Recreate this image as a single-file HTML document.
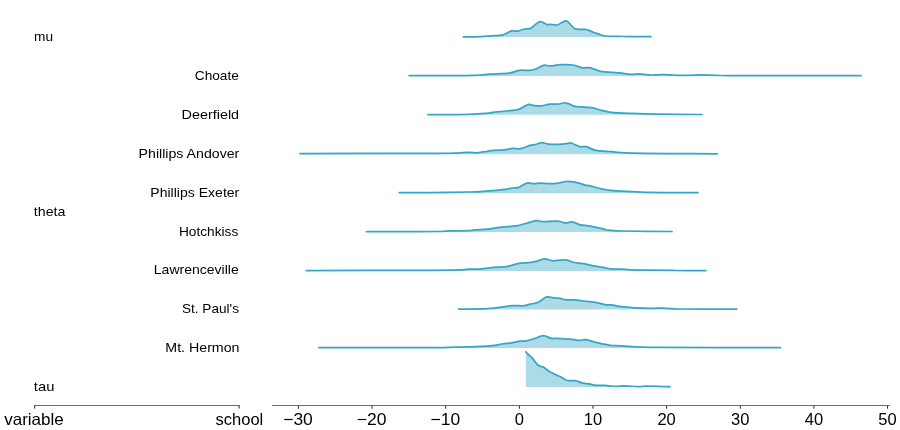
<!DOCTYPE html>
<html><head><meta charset="utf-8"><style>
html,body{margin:0;padding:0;background:#fff;width:900px;height:430px;overflow:hidden}
svg{display:block}
text{font-family:"Liberation Sans",sans-serif;fill:#000}
</style></head><body>
<svg width="900" height="430" viewBox="0 0 900 430">
<rect width="900" height="430" fill="#fff"/>
<path d="M463.30,36.80 C464.88,36.80 469.00,36.90 472.80,36.80 C476.60,36.70 482.58,36.38 486.10,36.20 C489.62,36.02 491.30,35.88 493.90,35.70 C496.50,35.52 499.85,35.38 501.70,35.10 C503.55,34.82 503.33,34.70 505.00,34.00 C506.67,33.30 509.67,31.37 511.70,30.90 C513.73,30.43 514.98,31.52 517.20,31.20 C519.42,30.88 522.77,29.47 525.00,29.00 C527.23,28.53 528.20,29.60 530.60,28.40 C533.00,27.20 536.63,22.43 539.40,21.80 C542.17,21.17 545.43,24.17 547.20,24.60 C548.97,25.03 548.52,24.33 550.00,24.40 C551.48,24.47 554.47,25.10 556.10,25.00 C557.73,24.90 558.27,24.48 559.80,23.80 C561.33,23.12 563.88,21.17 565.30,20.90 C566.72,20.63 566.78,20.95 568.30,22.20 C569.82,23.45 572.57,27.22 574.40,28.40 C576.23,29.58 577.25,29.10 579.30,29.30 C581.35,29.50 584.45,29.13 586.70,29.60 C588.95,30.07 590.77,31.33 592.80,32.10 C594.83,32.87 596.87,33.55 598.90,34.20 C600.93,34.85 602.55,35.63 605.00,36.00 C607.45,36.37 610.55,36.32 613.60,36.40 C616.65,36.48 619.63,36.45 623.30,36.50 C626.97,36.55 631.00,36.68 635.60,36.70 C640.20,36.72 648.35,36.62 650.90,36.60 L650.90,37.10 L463.30,37.10 Z" fill="#acdbe7" stroke="none"/>
<path d="M463.30,36.80 C464.88,36.80 469.00,36.90 472.80,36.80 C476.60,36.70 482.58,36.38 486.10,36.20 C489.62,36.02 491.30,35.88 493.90,35.70 C496.50,35.52 499.85,35.38 501.70,35.10 C503.55,34.82 503.33,34.70 505.00,34.00 C506.67,33.30 509.67,31.37 511.70,30.90 C513.73,30.43 514.98,31.52 517.20,31.20 C519.42,30.88 522.77,29.47 525.00,29.00 C527.23,28.53 528.20,29.60 530.60,28.40 C533.00,27.20 536.63,22.43 539.40,21.80 C542.17,21.17 545.43,24.17 547.20,24.60 C548.97,25.03 548.52,24.33 550.00,24.40 C551.48,24.47 554.47,25.10 556.10,25.00 C557.73,24.90 558.27,24.48 559.80,23.80 C561.33,23.12 563.88,21.17 565.30,20.90 C566.72,20.63 566.78,20.95 568.30,22.20 C569.82,23.45 572.57,27.22 574.40,28.40 C576.23,29.58 577.25,29.10 579.30,29.30 C581.35,29.50 584.45,29.13 586.70,29.60 C588.95,30.07 590.77,31.33 592.80,32.10 C594.83,32.87 596.87,33.55 598.90,34.20 C600.93,34.85 602.55,35.63 605.00,36.00 C607.45,36.37 610.55,36.32 613.60,36.40 C616.65,36.48 619.63,36.45 623.30,36.50 C626.97,36.55 631.00,36.68 635.60,36.70 C640.20,36.72 648.35,36.62 650.90,36.60" fill="none" stroke="#33a7c5" stroke-width="1.75" stroke-linejoin="round" stroke-linecap="round"/>
<path d="M409.10,75.60 C414.25,75.60 429.02,75.65 440.00,75.60 C450.98,75.55 466.67,75.55 475.00,75.30 C483.33,75.05 484.33,74.47 490.00,74.10 C495.67,73.73 504.33,73.68 509.00,73.10 C513.67,72.52 515.83,71.10 518.00,70.60 C520.17,70.10 520.00,70.13 522.00,70.10 C524.00,70.07 527.72,70.58 530.00,70.40 C532.28,70.22 533.42,69.85 535.70,69.00 C537.98,68.15 541.27,65.82 543.70,65.30 C546.13,64.78 547.42,66.02 550.30,65.90 C553.18,65.78 557.22,64.75 561.00,64.60 C564.78,64.45 569.45,64.45 573.00,65.00 C576.55,65.55 579.63,67.45 582.30,67.90 C584.97,68.35 585.88,67.13 589.00,67.70 C592.12,68.27 597.22,70.53 601.00,71.30 C604.78,72.07 608.53,72.03 611.70,72.30 C614.87,72.57 616.80,72.55 620.00,72.90 C623.20,73.25 627.78,74.25 630.90,74.40 C634.02,74.55 635.33,73.70 638.70,73.80 C642.07,73.90 646.97,74.85 651.10,75.00 C655.23,75.15 657.80,74.63 663.50,74.70 C669.20,74.77 679.07,75.37 685.30,75.40 C691.53,75.43 694.93,74.88 700.90,74.90 C706.87,74.92 711.25,75.38 721.10,75.50 C730.95,75.62 736.70,75.57 760.00,75.60 C783.30,75.63 844.08,75.68 860.90,75.70 L860.90,75.90 L409.10,75.90 Z" fill="#acdbe7" stroke="none"/>
<path d="M409.10,75.60 C414.25,75.60 429.02,75.65 440.00,75.60 C450.98,75.55 466.67,75.55 475.00,75.30 C483.33,75.05 484.33,74.47 490.00,74.10 C495.67,73.73 504.33,73.68 509.00,73.10 C513.67,72.52 515.83,71.10 518.00,70.60 C520.17,70.10 520.00,70.13 522.00,70.10 C524.00,70.07 527.72,70.58 530.00,70.40 C532.28,70.22 533.42,69.85 535.70,69.00 C537.98,68.15 541.27,65.82 543.70,65.30 C546.13,64.78 547.42,66.02 550.30,65.90 C553.18,65.78 557.22,64.75 561.00,64.60 C564.78,64.45 569.45,64.45 573.00,65.00 C576.55,65.55 579.63,67.45 582.30,67.90 C584.97,68.35 585.88,67.13 589.00,67.70 C592.12,68.27 597.22,70.53 601.00,71.30 C604.78,72.07 608.53,72.03 611.70,72.30 C614.87,72.57 616.80,72.55 620.00,72.90 C623.20,73.25 627.78,74.25 630.90,74.40 C634.02,74.55 635.33,73.70 638.70,73.80 C642.07,73.90 646.97,74.85 651.10,75.00 C655.23,75.15 657.80,74.63 663.50,74.70 C669.20,74.77 679.07,75.37 685.30,75.40 C691.53,75.43 694.93,74.88 700.90,74.90 C706.87,74.92 711.25,75.38 721.10,75.50 C730.95,75.62 736.70,75.57 760.00,75.60 C783.30,75.63 844.08,75.68 860.90,75.70" fill="none" stroke="#33a7c5" stroke-width="1.75" stroke-linejoin="round" stroke-linecap="round"/>
<path d="M428.00,114.60 C434.88,114.55 459.52,114.52 469.30,114.30 C479.08,114.08 482.47,113.67 486.70,113.30 C490.93,112.93 491.37,112.48 494.70,112.10 C498.03,111.72 502.70,111.47 506.70,111.00 C510.70,110.53 515.15,110.37 518.70,109.30 C522.25,108.23 525.33,105.20 528.00,104.60 C530.67,104.00 532.42,105.48 534.70,105.70 C536.98,105.92 539.20,106.17 541.70,105.90 C544.20,105.63 547.03,104.40 549.70,104.10 C552.37,103.80 555.37,104.28 557.70,104.10 C560.03,103.92 561.93,103.07 563.70,103.00 C565.47,102.93 566.42,103.15 568.30,103.70 C570.18,104.25 571.22,105.63 575.00,106.30 C578.78,106.97 586.55,107.03 591.00,107.70 C595.45,108.37 597.92,109.48 601.70,110.30 C605.48,111.12 609.27,112.10 613.70,112.60 C618.13,113.10 621.42,113.05 628.30,113.30 C635.18,113.55 642.72,113.90 655.00,114.10 C667.28,114.30 694.17,114.43 702.00,114.50 L702.00,114.80 L428.00,114.80 Z" fill="#acdbe7" stroke="none"/>
<path d="M428.00,114.60 C434.88,114.55 459.52,114.52 469.30,114.30 C479.08,114.08 482.47,113.67 486.70,113.30 C490.93,112.93 491.37,112.48 494.70,112.10 C498.03,111.72 502.70,111.47 506.70,111.00 C510.70,110.53 515.15,110.37 518.70,109.30 C522.25,108.23 525.33,105.20 528.00,104.60 C530.67,104.00 532.42,105.48 534.70,105.70 C536.98,105.92 539.20,106.17 541.70,105.90 C544.20,105.63 547.03,104.40 549.70,104.10 C552.37,103.80 555.37,104.28 557.70,104.10 C560.03,103.92 561.93,103.07 563.70,103.00 C565.47,102.93 566.42,103.15 568.30,103.70 C570.18,104.25 571.22,105.63 575.00,106.30 C578.78,106.97 586.55,107.03 591.00,107.70 C595.45,108.37 597.92,109.48 601.70,110.30 C605.48,111.12 609.27,112.10 613.70,112.60 C618.13,113.10 621.42,113.05 628.30,113.30 C635.18,113.55 642.72,113.90 655.00,114.10 C667.28,114.30 694.17,114.43 702.00,114.50" fill="none" stroke="#33a7c5" stroke-width="1.75" stroke-linejoin="round" stroke-linecap="round"/>
<path d="M300.00,153.60 C323.33,153.55 414.45,153.38 440.00,153.30 C465.55,153.22 448.57,153.25 453.30,153.10 C458.03,152.95 464.40,152.45 468.40,152.40 C472.40,152.35 474.33,152.95 477.30,152.80 C480.27,152.65 483.53,151.90 486.20,151.50 C488.87,151.10 490.33,150.67 493.30,150.40 C496.27,150.13 500.73,150.23 504.00,149.90 C507.27,149.57 510.12,148.60 512.90,148.40 C515.68,148.20 517.85,149.20 520.70,148.70 C523.55,148.20 527.57,146.10 530.00,145.40 C532.43,144.70 533.30,144.95 535.30,144.50 C537.30,144.05 539.77,142.77 542.00,142.70 C544.23,142.63 545.37,143.87 548.70,144.10 C552.03,144.33 558.40,144.27 562.00,144.10 C565.60,143.93 568.47,143.17 570.30,143.10 C572.13,143.03 571.43,143.10 573.00,143.70 C574.57,144.30 577.48,146.20 579.70,146.70 C581.92,147.20 583.63,146.10 586.30,146.70 C588.97,147.30 591.47,149.47 595.70,150.30 C599.93,151.13 607.48,151.30 611.70,151.70 C615.92,152.10 615.45,152.42 621.00,152.70 C626.55,152.98 634.33,153.23 645.00,153.40 C655.67,153.57 672.97,153.63 685.00,153.70 C697.03,153.77 711.83,153.78 717.20,153.80 L717.20,154.20 L300.00,154.20 Z" fill="#acdbe7" stroke="none"/>
<path d="M300.00,153.60 C323.33,153.55 414.45,153.38 440.00,153.30 C465.55,153.22 448.57,153.25 453.30,153.10 C458.03,152.95 464.40,152.45 468.40,152.40 C472.40,152.35 474.33,152.95 477.30,152.80 C480.27,152.65 483.53,151.90 486.20,151.50 C488.87,151.10 490.33,150.67 493.30,150.40 C496.27,150.13 500.73,150.23 504.00,149.90 C507.27,149.57 510.12,148.60 512.90,148.40 C515.68,148.20 517.85,149.20 520.70,148.70 C523.55,148.20 527.57,146.10 530.00,145.40 C532.43,144.70 533.30,144.95 535.30,144.50 C537.30,144.05 539.77,142.77 542.00,142.70 C544.23,142.63 545.37,143.87 548.70,144.10 C552.03,144.33 558.40,144.27 562.00,144.10 C565.60,143.93 568.47,143.17 570.30,143.10 C572.13,143.03 571.43,143.10 573.00,143.70 C574.57,144.30 577.48,146.20 579.70,146.70 C581.92,147.20 583.63,146.10 586.30,146.70 C588.97,147.30 591.47,149.47 595.70,150.30 C599.93,151.13 607.48,151.30 611.70,151.70 C615.92,152.10 615.45,152.42 621.00,152.70 C626.55,152.98 634.33,153.23 645.00,153.40 C655.67,153.57 672.97,153.63 685.00,153.70 C697.03,153.77 711.83,153.78 717.20,153.80" fill="none" stroke="#33a7c5" stroke-width="1.75" stroke-linejoin="round" stroke-linecap="round"/>
<path d="M399.30,192.70 C404.42,192.70 418.22,192.82 430.00,192.70 C441.78,192.58 460.67,192.27 470.00,192.00 C479.33,191.73 480.17,191.55 486.00,191.10 C491.83,190.65 500.50,189.82 505.00,189.30 C509.50,188.78 510.67,188.33 513.00,188.00 C515.33,187.67 516.67,188.12 519.00,187.30 C521.33,186.48 524.55,183.70 527.00,183.10 C529.45,182.50 531.37,183.70 533.70,183.70 C536.03,183.70 538.45,183.10 541.00,183.10 C543.55,183.10 546.12,183.70 549.00,183.70 C551.88,183.70 555.42,183.47 558.30,183.10 C561.18,182.73 563.18,181.57 566.30,181.50 C569.42,181.43 573.88,182.10 577.00,182.70 C580.12,183.30 582.55,184.50 585.00,185.10 C587.45,185.70 589.15,185.72 591.70,186.30 C594.25,186.88 596.78,187.88 600.30,188.60 C603.82,189.32 608.50,190.15 612.80,190.60 C617.10,191.05 620.18,191.00 626.10,191.30 C632.02,191.60 640.15,192.18 648.30,192.40 C656.45,192.62 666.72,192.55 675.00,192.60 C683.28,192.65 694.17,192.68 698.00,192.70 L698.00,193.20 L399.30,193.20 Z" fill="#acdbe7" stroke="none"/>
<path d="M399.30,192.70 C404.42,192.70 418.22,192.82 430.00,192.70 C441.78,192.58 460.67,192.27 470.00,192.00 C479.33,191.73 480.17,191.55 486.00,191.10 C491.83,190.65 500.50,189.82 505.00,189.30 C509.50,188.78 510.67,188.33 513.00,188.00 C515.33,187.67 516.67,188.12 519.00,187.30 C521.33,186.48 524.55,183.70 527.00,183.10 C529.45,182.50 531.37,183.70 533.70,183.70 C536.03,183.70 538.45,183.10 541.00,183.10 C543.55,183.10 546.12,183.70 549.00,183.70 C551.88,183.70 555.42,183.47 558.30,183.10 C561.18,182.73 563.18,181.57 566.30,181.50 C569.42,181.43 573.88,182.10 577.00,182.70 C580.12,183.30 582.55,184.50 585.00,185.10 C587.45,185.70 589.15,185.72 591.70,186.30 C594.25,186.88 596.78,187.88 600.30,188.60 C603.82,189.32 608.50,190.15 612.80,190.60 C617.10,191.05 620.18,191.00 626.10,191.30 C632.02,191.60 640.15,192.18 648.30,192.40 C656.45,192.62 666.72,192.55 675.00,192.60 C683.28,192.65 694.17,192.68 698.00,192.70" fill="none" stroke="#33a7c5" stroke-width="1.75" stroke-linejoin="round" stroke-linecap="round"/>
<path d="M366.40,231.60 C373.67,231.60 397.73,231.62 410.00,231.60 C422.27,231.58 433.33,231.62 440.00,231.50 C446.67,231.38 445.33,231.03 450.00,230.90 C454.67,230.77 463.83,230.87 468.00,230.70 C472.17,230.53 471.33,230.20 475.00,229.90 C478.67,229.60 485.55,229.37 490.00,228.90 C494.45,228.43 497.32,227.62 501.70,227.10 C506.08,226.58 512.30,226.40 516.30,225.80 C520.30,225.20 522.37,224.37 525.70,223.50 C529.03,222.63 533.42,220.92 536.30,220.60 C539.18,220.28 539.43,221.52 543.00,221.60 C546.57,221.68 553.92,220.85 557.70,221.10 C561.48,221.35 563.27,222.98 565.70,223.10 C568.13,223.22 569.87,221.52 572.30,221.80 C574.73,222.08 577.63,224.13 580.30,224.80 C582.97,225.47 585.85,225.40 588.30,225.80 C590.75,226.20 593.05,226.83 595.00,227.20 C596.95,227.57 598.00,227.53 600.00,228.00 C602.00,228.47 603.33,229.50 607.00,230.00 C610.67,230.50 611.17,230.75 622.00,231.00 C632.83,231.25 663.67,231.42 672.00,231.50 L672.00,231.90 L366.40,231.90 Z" fill="#acdbe7" stroke="none"/>
<path d="M366.40,231.60 C373.67,231.60 397.73,231.62 410.00,231.60 C422.27,231.58 433.33,231.62 440.00,231.50 C446.67,231.38 445.33,231.03 450.00,230.90 C454.67,230.77 463.83,230.87 468.00,230.70 C472.17,230.53 471.33,230.20 475.00,229.90 C478.67,229.60 485.55,229.37 490.00,228.90 C494.45,228.43 497.32,227.62 501.70,227.10 C506.08,226.58 512.30,226.40 516.30,225.80 C520.30,225.20 522.37,224.37 525.70,223.50 C529.03,222.63 533.42,220.92 536.30,220.60 C539.18,220.28 539.43,221.52 543.00,221.60 C546.57,221.68 553.92,220.85 557.70,221.10 C561.48,221.35 563.27,222.98 565.70,223.10 C568.13,223.22 569.87,221.52 572.30,221.80 C574.73,222.08 577.63,224.13 580.30,224.80 C582.97,225.47 585.85,225.40 588.30,225.80 C590.75,226.20 593.05,226.83 595.00,227.20 C596.95,227.57 598.00,227.53 600.00,228.00 C602.00,228.47 603.33,229.50 607.00,230.00 C610.67,230.50 611.17,230.75 622.00,231.00 C632.83,231.25 663.67,231.42 672.00,231.50" fill="none" stroke="#33a7c5" stroke-width="1.75" stroke-linejoin="round" stroke-linecap="round"/>
<path d="M306.20,270.50 C326.83,270.47 404.18,270.42 430.00,270.30 C455.82,270.18 454.62,270.00 461.10,269.80 C467.58,269.60 465.93,269.22 468.90,269.10 C471.87,268.98 475.02,269.35 478.90,269.10 C482.78,268.85 487.38,268.07 492.20,267.60 C497.02,267.13 503.35,267.02 507.80,266.30 C512.25,265.58 515.42,263.90 518.90,263.30 C522.38,262.70 525.52,263.12 528.70,262.70 C531.88,262.28 535.33,261.45 538.00,260.80 C540.67,260.15 542.25,258.80 544.70,258.80 C547.15,258.80 550.03,260.58 552.70,260.80 C555.37,261.02 558.27,260.22 560.70,260.10 C563.13,259.98 565.08,259.70 567.30,260.10 C569.52,260.50 571.33,261.92 574.00,262.50 C576.67,263.08 579.80,263.00 583.30,263.60 C586.80,264.20 591.87,265.50 595.00,266.10 C598.13,266.70 599.43,266.75 602.10,267.20 C604.77,267.65 607.73,268.48 611.00,268.80 C614.27,269.12 618.43,268.92 621.70,269.10 C624.97,269.28 626.17,269.73 630.60,269.90 C635.03,270.07 640.90,270.00 648.30,270.10 C655.70,270.20 665.42,270.43 675.00,270.50 C684.58,270.57 700.67,270.50 705.80,270.50 L705.80,271.10 L306.20,271.10 Z" fill="#acdbe7" stroke="none"/>
<path d="M306.20,270.50 C326.83,270.47 404.18,270.42 430.00,270.30 C455.82,270.18 454.62,270.00 461.10,269.80 C467.58,269.60 465.93,269.22 468.90,269.10 C471.87,268.98 475.02,269.35 478.90,269.10 C482.78,268.85 487.38,268.07 492.20,267.60 C497.02,267.13 503.35,267.02 507.80,266.30 C512.25,265.58 515.42,263.90 518.90,263.30 C522.38,262.70 525.52,263.12 528.70,262.70 C531.88,262.28 535.33,261.45 538.00,260.80 C540.67,260.15 542.25,258.80 544.70,258.80 C547.15,258.80 550.03,260.58 552.70,260.80 C555.37,261.02 558.27,260.22 560.70,260.10 C563.13,259.98 565.08,259.70 567.30,260.10 C569.52,260.50 571.33,261.92 574.00,262.50 C576.67,263.08 579.80,263.00 583.30,263.60 C586.80,264.20 591.87,265.50 595.00,266.10 C598.13,266.70 599.43,266.75 602.10,267.20 C604.77,267.65 607.73,268.48 611.00,268.80 C614.27,269.12 618.43,268.92 621.70,269.10 C624.97,269.28 626.17,269.73 630.60,269.90 C635.03,270.07 640.90,270.00 648.30,270.10 C655.70,270.20 665.42,270.43 675.00,270.50 C684.58,270.57 700.67,270.50 705.80,270.50" fill="none" stroke="#33a7c5" stroke-width="1.75" stroke-linejoin="round" stroke-linecap="round"/>
<path d="M458.70,309.10 C463.58,309.03 480.28,309.12 488.00,308.70 C495.72,308.28 501.00,307.12 505.00,306.60 C509.00,306.08 508.83,305.75 512.00,305.60 C515.17,305.45 521.00,305.93 524.00,305.70 C527.00,305.47 527.67,304.75 530.00,304.20 C532.33,303.65 535.33,303.58 538.00,302.40 C540.67,301.22 543.67,297.90 546.00,297.10 C548.33,296.30 549.67,297.38 552.00,297.60 C554.33,297.82 557.83,298.05 560.00,298.40 C562.17,298.75 562.17,299.42 565.00,299.70 C567.83,299.98 573.88,299.88 577.00,300.10 C580.12,300.32 580.82,300.67 583.70,301.00 C586.58,301.33 590.75,301.48 594.30,302.10 C597.85,302.72 601.88,304.20 605.00,304.70 C608.12,305.20 610.33,304.77 613.00,305.10 C615.67,305.43 617.45,306.25 621.00,306.70 C624.55,307.15 629.18,307.53 634.30,307.80 C639.42,308.07 647.03,308.25 651.70,308.30 C656.37,308.35 658.97,308.03 662.30,308.10 C665.63,308.17 667.92,308.55 671.70,308.70 C675.48,308.85 674.17,308.92 685.00,309.00 C695.83,309.08 728.08,309.17 736.70,309.20 L736.70,309.60 L458.70,309.60 Z" fill="#acdbe7" stroke="none"/>
<path d="M458.70,309.10 C463.58,309.03 480.28,309.12 488.00,308.70 C495.72,308.28 501.00,307.12 505.00,306.60 C509.00,306.08 508.83,305.75 512.00,305.60 C515.17,305.45 521.00,305.93 524.00,305.70 C527.00,305.47 527.67,304.75 530.00,304.20 C532.33,303.65 535.33,303.58 538.00,302.40 C540.67,301.22 543.67,297.90 546.00,297.10 C548.33,296.30 549.67,297.38 552.00,297.60 C554.33,297.82 557.83,298.05 560.00,298.40 C562.17,298.75 562.17,299.42 565.00,299.70 C567.83,299.98 573.88,299.88 577.00,300.10 C580.12,300.32 580.82,300.67 583.70,301.00 C586.58,301.33 590.75,301.48 594.30,302.10 C597.85,302.72 601.88,304.20 605.00,304.70 C608.12,305.20 610.33,304.77 613.00,305.10 C615.67,305.43 617.45,306.25 621.00,306.70 C624.55,307.15 629.18,307.53 634.30,307.80 C639.42,308.07 647.03,308.25 651.70,308.30 C656.37,308.35 658.97,308.03 662.30,308.10 C665.63,308.17 667.92,308.55 671.70,308.70 C675.48,308.85 674.17,308.92 685.00,309.00 C695.83,309.08 728.08,309.17 736.70,309.20" fill="none" stroke="#33a7c5" stroke-width="1.75" stroke-linejoin="round" stroke-linecap="round"/>
<path d="M318.90,347.60 C337.42,347.60 407.32,347.67 430.00,347.60 C452.68,347.53 445.00,347.50 455.00,347.20 C465.00,346.90 482.17,346.33 490.00,345.80 C497.83,345.27 498.33,344.48 502.00,344.00 C505.67,343.52 509.00,343.37 512.00,342.90 C515.00,342.43 517.67,341.53 520.00,341.20 C522.33,340.87 523.67,341.32 526.00,340.90 C528.33,340.48 531.12,339.58 534.00,338.70 C536.88,337.82 540.42,335.65 543.30,335.60 C546.18,335.55 548.85,337.95 551.30,338.40 C553.75,338.85 555.55,338.18 558.00,338.30 C560.45,338.42 563.55,338.93 566.00,339.10 C568.45,339.27 570.48,339.08 572.70,339.30 C574.92,339.52 577.08,340.35 579.30,340.40 C581.52,340.45 583.10,339.22 586.00,339.60 C588.90,339.98 592.70,341.75 596.70,342.70 C600.70,343.65 607.33,344.83 610.00,345.30 C612.67,345.77 609.10,345.28 612.70,345.50 C616.30,345.72 623.88,346.28 631.60,346.60 C639.32,346.92 634.20,347.22 659.00,347.40 C683.80,347.58 760.17,347.65 780.40,347.70 L780.40,348.00 L318.90,348.00 Z" fill="#acdbe7" stroke="none"/>
<path d="M318.90,347.60 C337.42,347.60 407.32,347.67 430.00,347.60 C452.68,347.53 445.00,347.50 455.00,347.20 C465.00,346.90 482.17,346.33 490.00,345.80 C497.83,345.27 498.33,344.48 502.00,344.00 C505.67,343.52 509.00,343.37 512.00,342.90 C515.00,342.43 517.67,341.53 520.00,341.20 C522.33,340.87 523.67,341.32 526.00,340.90 C528.33,340.48 531.12,339.58 534.00,338.70 C536.88,337.82 540.42,335.65 543.30,335.60 C546.18,335.55 548.85,337.95 551.30,338.40 C553.75,338.85 555.55,338.18 558.00,338.30 C560.45,338.42 563.55,338.93 566.00,339.10 C568.45,339.27 570.48,339.08 572.70,339.30 C574.92,339.52 577.08,340.35 579.30,340.40 C581.52,340.45 583.10,339.22 586.00,339.60 C588.90,339.98 592.70,341.75 596.70,342.70 C600.70,343.65 607.33,344.83 610.00,345.30 C612.67,345.77 609.10,345.28 612.70,345.50 C616.30,345.72 623.88,346.28 631.60,346.60 C639.32,346.92 634.20,347.22 659.00,347.40 C683.80,347.58 760.17,347.65 780.40,347.70" fill="none" stroke="#33a7c5" stroke-width="1.75" stroke-linejoin="round" stroke-linecap="round"/>
<path d="M525.80,351.80 C526.37,352.40 528.18,354.43 529.20,355.40 C530.22,356.37 530.62,356.15 531.90,357.60 C533.18,359.05 535.53,362.65 536.90,364.10 C538.27,365.55 538.92,365.75 540.10,366.30 C541.28,366.85 542.53,366.58 544.00,367.40 C545.47,368.22 547.18,370.10 548.90,371.20 C550.62,372.30 552.12,372.93 554.30,374.00 C556.48,375.07 559.80,376.52 562.00,377.60 C564.20,378.68 565.13,379.97 567.50,380.50 C569.87,381.03 573.83,380.40 576.20,380.80 C578.57,381.20 579.52,382.38 581.70,382.90 C583.88,383.42 586.92,383.50 589.30,383.90 C591.68,384.30 593.55,385.05 596.00,385.30 C598.45,385.55 601.67,385.28 604.00,385.40 C606.33,385.52 607.67,385.85 610.00,386.00 C612.33,386.15 615.83,386.32 618.00,386.30 C620.17,386.28 619.33,385.85 623.00,385.90 C626.67,385.95 636.33,386.55 640.00,386.60 C643.67,386.65 640.00,386.18 645.00,386.20 C650.00,386.22 665.83,386.62 670.00,386.70 L670.00,386.90 L525.80,386.90 Z" fill="#acdbe7" stroke="none"/>
<path d="M525.80,351.80 C526.37,352.40 528.18,354.43 529.20,355.40 C530.22,356.37 530.62,356.15 531.90,357.60 C533.18,359.05 535.53,362.65 536.90,364.10 C538.27,365.55 538.92,365.75 540.10,366.30 C541.28,366.85 542.53,366.58 544.00,367.40 C545.47,368.22 547.18,370.10 548.90,371.20 C550.62,372.30 552.12,372.93 554.30,374.00 C556.48,375.07 559.80,376.52 562.00,377.60 C564.20,378.68 565.13,379.97 567.50,380.50 C569.87,381.03 573.83,380.40 576.20,380.80 C578.57,381.20 579.52,382.38 581.70,382.90 C583.88,383.42 586.92,383.50 589.30,383.90 C591.68,384.30 593.55,385.05 596.00,385.30 C598.45,385.55 601.67,385.28 604.00,385.40 C606.33,385.52 607.67,385.85 610.00,386.00 C612.33,386.15 615.83,386.32 618.00,386.30 C620.17,386.28 619.33,385.85 623.00,385.90 C626.67,385.95 636.33,386.55 640.00,386.60 C643.67,386.65 640.00,386.18 645.00,386.20 C650.00,386.22 665.83,386.62 670.00,386.70" fill="none" stroke="#33a7c5" stroke-width="1.75" stroke-linejoin="round" stroke-linecap="round"/>
<g style="will-change:transform">
<text x="34.0" y="41.0" text-anchor="start" font-size="13.5" textLength="19.0" lengthAdjust="spacingAndGlyphs">mu</text>
<text x="194.8" y="80.0" text-anchor="start" font-size="13.5" textLength="44.0" lengthAdjust="spacingAndGlyphs">Choate</text>
<text x="181.5" y="119.0" text-anchor="start" font-size="13.5" textLength="57.6" lengthAdjust="spacingAndGlyphs">Deerfield</text>
<text x="138.6" y="158.0" text-anchor="start" font-size="13.5" textLength="100.7" lengthAdjust="spacingAndGlyphs">Phillips Andover</text>
<text x="150.3" y="197.0" text-anchor="start" font-size="13.5" textLength="89.0" lengthAdjust="spacingAndGlyphs">Phillips Exeter</text>
<text x="33.8" y="216.0" text-anchor="start" font-size="13.5" textLength="31.6" lengthAdjust="spacingAndGlyphs">theta</text>
<text x="178.9" y="236.0" text-anchor="start" font-size="13.5" textLength="59.4" lengthAdjust="spacingAndGlyphs">Hotchkiss</text>
<text x="153.8" y="274.0" text-anchor="start" font-size="13.5" textLength="84.9" lengthAdjust="spacingAndGlyphs">Lawrenceville</text>
<text x="181.9" y="313.0" text-anchor="start" font-size="13.5" textLength="57.1" lengthAdjust="spacingAndGlyphs">St. Paul&#39;s</text>
<text x="165.3" y="352.0" text-anchor="start" font-size="13.5" textLength="74.2" lengthAdjust="spacingAndGlyphs">Mt. Hermon</text>
<text x="33.8" y="391.0" text-anchor="start" font-size="13.5" textLength="20.6" lengthAdjust="spacingAndGlyphs">tau</text>
<path d="M34.2,405.5 H239.6" stroke="#6e6e6e" stroke-width="1.1" fill="none"/>
<path d="M34.7,405.5 V408.6 M239.1,405.5 V408.6" stroke="#222" stroke-width="1.0" fill="none"/>
<path d="M272.2,405.5 H889.8" stroke="#6e6e6e" stroke-width="1.1" fill="none"/>
<path d=" M298.43,405.9 V408.7 M372.07,405.9 V408.7 M445.71,405.9 V408.7 M519.35,405.9 V408.7 M592.99,405.9 V408.7 M666.63,405.9 V408.7 M740.27,405.9 V408.7 M813.91,405.9 V408.7 M887.55,405.9 V408.7" stroke="#222" stroke-width="1.0" fill="none"/>
<text x="298.03" y="425.2" text-anchor="middle" font-size="16.5" fill="#262626" textLength="29.6" lengthAdjust="spacingAndGlyphs">−30</text>
<text x="371.67" y="425.2" text-anchor="middle" font-size="16.5" fill="#262626" textLength="29.6" lengthAdjust="spacingAndGlyphs">−20</text>
<text x="445.31" y="425.2" text-anchor="middle" font-size="16.5" fill="#262626" textLength="29.6" lengthAdjust="spacingAndGlyphs">−10</text>
<text x="519.35" y="425.2" text-anchor="middle" font-size="16.5" fill="#262626">0</text>
<text x="592.99" y="425.2" text-anchor="middle" font-size="16.5" fill="#262626">10</text>
<text x="666.63" y="425.2" text-anchor="middle" font-size="16.5" fill="#262626">20</text>
<text x="740.27" y="425.2" text-anchor="middle" font-size="16.5" fill="#262626">30</text>
<text x="813.91" y="425.2" text-anchor="middle" font-size="16.5" fill="#262626">40</text>
<text x="887.55" y="425.2" text-anchor="middle" font-size="16.5" fill="#262626">50</text>
<text x="34.0" y="424.9" text-anchor="middle" font-size="16.5" fill="#262626" textLength="59.7" lengthAdjust="spacingAndGlyphs">variable</text>
<text x="239.4" y="424.9" text-anchor="middle" font-size="16.5" fill="#262626">school</text>
</g>
</svg></body></html>
